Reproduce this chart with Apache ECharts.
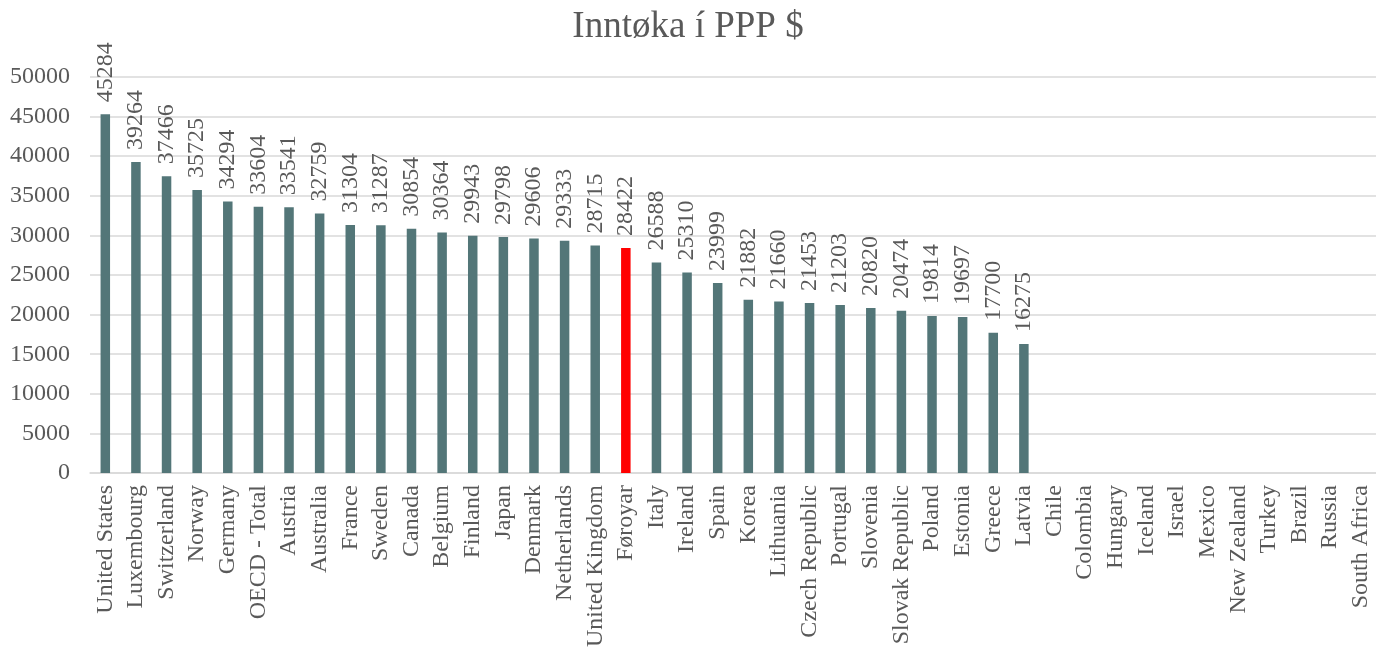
<!DOCTYPE html>
<html>
<head>
<meta charset="utf-8">
<script src="https://cdn.jsdelivr.net/npm/echarts@6/dist/echarts.min.js"></script>
<style>html,body{margin:0;padding:0;background:#fff;}#c{width:1376px;height:650px;}</style>
</head>
<body>
<div id="c"></div>
<script>
const categories = ["United States","Luxembourg","Switzerland","Norway","Germany","OECD - Total","Austria","Australia","France","Sweden","Canada","Belgium","Finland","Japan","Denmark","Netherlands","United Kingdom","Føroyar","Italy","Ireland","Spain","Korea","Lithuania","Czech Republic","Portugal","Slovenia","Slovak Republic","Poland","Estonia","Greece","Latvia","Chile","Colombia","Hungary","Iceland","Israel","Mexico","New Zealand","Turkey","Brazil","Russia","South Africa"];
const values = [45284,39264,37466,35725,34294,33604,33541,32759,31304,31287,30854,30364,29943,29798,29606,29333,28715,28422,26588,25310,23999,21882,21660,21453,21203,20820,20474,19814,19697,17700,16275,null,null,null,null,null,null,null,null,null,null,null];
const highlight = "Føroyar";
const yTicks = {min:0, max:50000, interval:5000};

const font = "'Liberation Serif','Times New Roman',serif";
const chart = echarts.init(document.getElementById('c'));
chart.setOption({
  animation:false,
  title:{text:"Inntøka í PPP $", left:'center', top:4, textStyle:{fontFamily:font, fontSize:37, fontWeight:'normal', color:'#595959'}},
  grid:{left:90, right:0, top:77, bottom:176, containLabel:false},
  xAxis:{type:'category', data:categories,
    axisLine:{show:true, lineStyle:{color:'#d9d9d9', width:1.5}},
    axisTick:{show:false},
    axisLabel:{rotate:90, interval:0, margin:12, fontFamily:font, fontSize:24, color:'#595959'}},
  yAxis:{type:'value', min:yTicks.min, max:yTicks.max, interval:yTicks.interval,
    axisLine:{show:false}, axisTick:{show:false},
    splitLine:{lineStyle:{color:'#d9d9d9', width:1.5}},
    axisLabel:{margin:20, fontFamily:font, fontSize:24, color:'#595959', formatter:v=>String(v)}},
  series:[{type:'bar', barWidth:9.5,
    data: values.map((v,i)=>({value:v, itemStyle:{color: categories[i]===highlight ? '#ff0000' : '#537678'}})),
    label:{show:true, position:'top', rotate:90, align:'left', verticalAlign:'middle', distance:12,
      fontFamily:font, fontSize:24, color:'#595959', formatter:p=>p.value==null?'':String(p.value)}
  }]
});
</script>
</body>
</html>
